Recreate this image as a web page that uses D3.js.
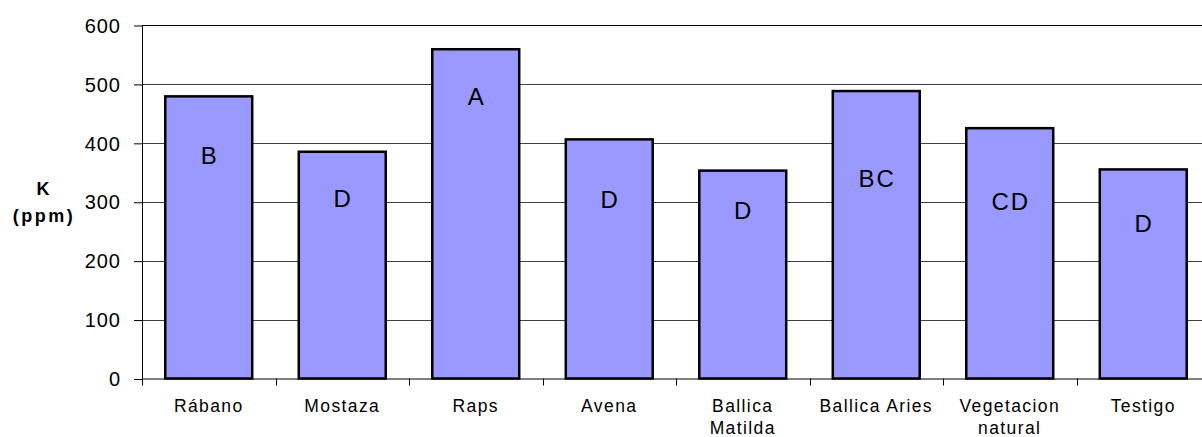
<!DOCTYPE html>
<html>
<head>
<meta charset="utf-8">
<script src="https://cdn.jsdelivr.net/npm/d3@7"></script>
<style>
    body { margin: 0; background: #fff; }
    svg { display: block; font-family: "Liberation Sans", Arial, sans-serif; }
</style>
</head>
<body>
<svg id="chart"></svg>
<script>

// Data
var categories = ["Rábano", "Mostaza", "Raps", "Avena", "Ballica Matilda", "Ballica Aries", "Vegetacion natural", "Testigo"];
var kValues = [481, 387, 561, 408, 355, 490, 427, 357];
var groupLetters = ["B", "D", "A", "D", "D", "BC", "CD", "D"];
// height (in ppm) where each letter sits inside its bar
var letterAt = [379, 305, 479, 304, 286, 339, 300, 264];
var yTicks = [0, 100, 200, 300, 400, 500, 600];

/*Default Values*/
var local = {
    "svgwidth": 1202,
    "svgheight": 437,
    "barcolour": "#9999ff",
    "margin": {"top": 25, "bottom": 58.5, "left": 142, "right": -8},
    "barspacingratio": 0.67
};

var width = local.svgwidth - local.margin.left - local.margin.right;
var height = local.svgheight - local.margin.top - local.margin.bottom;

var svg = d3.select("#chart")
    .attr("width", local.svgwidth)
    .attr("height", local.svgheight);

var g = svg.append("g")
    .attr("transform", "translate(" + local.margin.left + "," + local.margin.top + ")");

//Scales
var xScale = d3.scaleBand()
    .domain(categories)
    .range([0, width])
    .paddingInner(1 - local.barspacingratio)
    .paddingOuter((1 - local.barspacingratio) / 2);

var yScale = d3.scaleLinear()
    .domain([0, 600])
    .range([height, 0]);

var step = xScale.step();

//Gridlines
g.selectAll(".grid")
    .data(yTicks.filter(function(d){ return d > 0; }))
    .enter()
    .append("line")
    .attr("class", "grid")
    .attr("x1", 0)
    .attr("x2", width)
    .attr("y1", function(d){ return Math.round(yScale(d)) + 0.5; })
    .attr("y2", function(d){ return Math.round(yScale(d)) + 0.5; })
    .attr("stroke", function(d){ return d === 600 ? "#000" : "#404040"; })
    .attr("stroke-width", 1);

//Y axis
var yAxis = d3.axisLeft(yScale)
    .tickValues(yTicks)
    .tickSize(8)
    .tickPadding(13)
    .tickFormat(d3.format("d"));

var yAxisG = g.append("g")
    .attr("class", "yAxis")
    .call(yAxis);

yAxisG.select(".domain").remove();
yAxisG.selectAll(".tick line")
    .attr("stroke", "#000")
    .attr("transform", "translate(0,0.5)");
yAxisG.selectAll(".tick text")
    .attr("font-size", 20)
    .attr("letter-spacing", 1)
    .attr("fill", "#000")
    .attr("dy", "0.36em")
    .attr("font-family", "\"Liberation Sans\", Arial, sans-serif");

g.append("line")
    .attr("x1", 0.5).attr("x2", 0.5)
    .attr("y1", 0).attr("y2", height)
    .attr("stroke", "#000");

//Bars
g.selectAll(".bar")
    .data(kValues)
    .enter()
    .append("rect")
    .attr("class", "bar")
    .attr("x", function(d, i){ return xScale(categories[i]) + 1.25; })
    .attr("y", function(d){ return yScale(d) + 1.25; })
    .attr("width", xScale.bandwidth() - 2.5)
    .attr("height", function(d){ return height - yScale(d) - 1.25; })
    .attr("fill", local.barcolour)
    .attr("stroke", "#000")
    .attr("stroke-width", 2.5);

//Letters inside bars
g.selectAll(".letter")
    .data(groupLetters)
    .enter()
    .append("text")
    .attr("class", "letter")
    .attr("x", function(d, i){ return xScale(categories[i]) + xScale.bandwidth() / 2 + 1; })
    .attr("y", function(d, i){ return yScale(letterAt[i]); })
    .attr("dy", "0.36em")
    .attr("text-anchor", "middle")
    .attr("font-size", 24)
    .attr("letter-spacing", 2)
    .text(function(d){ return d; });

//X axis line + category ticks
g.append("line")
    .attr("x1", 0).attr("x2", width)
    .attr("y1", height + 0.5).attr("y2", height + 0.5)
    .attr("stroke", "#000");

g.selectAll(".xtick")
    .data(d3.range(categories.length + 1))
    .enter()
    .append("line")
    .attr("class", "xtick")
    .attr("x1", function(i){ return Math.round(step * i) + 0.5; })
    .attr("x2", function(i){ return Math.round(step * i) + 0.5; })
    .attr("y1", height)
    .attr("y2", height + 7)
    .attr("stroke", "#000");

//Category labels, wrapped like the original
var labels = g.selectAll(".xlabel")
    .data(categories)
    .enter()
    .append("text")
    .attr("class", "xlabel")
    .attr("text-anchor", "middle")
    .attr("font-size", 17.5)
    .attr("letter-spacing", 1.4)
    .attr("fill", "#000")
    .attr("transform", function(d){
        return "translate(" + (xScale(d) + xScale.bandwidth() / 2) + "," + (height + 33.5) + ")";
    });

labels.each(function(d){
    var lines = (d === "Ballica Aries") ? [d] : d.split(" ");
    var t = d3.select(this);
    lines.forEach(function(line, k){
        t.append("tspan")
            .attr("x", 0)
            .attr("y", k * 22)
            .text(line);
    });
});

//Axis title
var title = svg.append("text")
    .attr("text-anchor", "middle")
    .attr("font-size", 18)
    .attr("font-weight", "bold")
    .attr("fill", "#000");

title.append("tspan").attr("x", 43).attr("y", 195).text("K");
title.append("tspan").attr("x", 44).attr("y", 222).attr("letter-spacing", 2.5).text("(ppm)");

</script>
</body>
</html>
